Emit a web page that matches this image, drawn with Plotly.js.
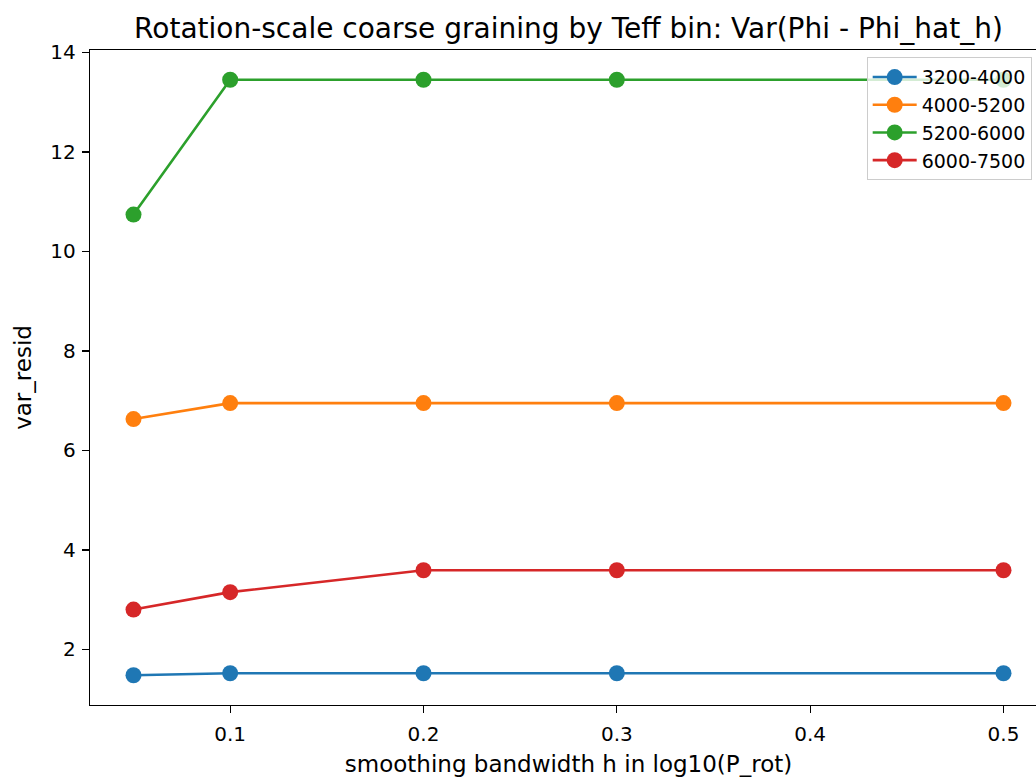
<!DOCTYPE html>
<html><head><meta charset="utf-8">
<script src="https://cdn.plot.ly/plotly-3.0.1.min.js"></script>
<style>html,body{margin:0;padding:0;overflow:hidden;background:#fff}</style>
</head><body><div id="chart"></div>
<script>
const bandwidths = [0.05, 0.1, 0.2, 0.3, 0.5];
const seriesNames = ["3200-4000", "4000-5200", "5200-6000", "6000-7500"];
const var3200_4000 = [1.48, 1.52, 1.52, 1.52, 1.52];
const var4000_5200 = [6.63, 6.95, 6.95, 6.95, 6.95];
const var5200_6000 = [10.74, 13.45, 13.45, 13.45, 13.45];
const var6000_7500 = [2.80, 3.15, 3.59, 3.59, 3.59];
const xTicks = [0.1, 0.2, 0.3, 0.4, 0.5];
const yTicks = [2, 4, 6, 8, 10, 12, 14];

const colors = ["#1f77b4", "#ff7f0e", "#2ca02c", "#d62728"];
const allY = [var3200_4000, var4000_5200, var5200_6000, var6000_7500];
const traces = allY.map((ys, i) => ({
  x: bandwidths, y: ys, name: seriesNames[i], type: "scatter", mode: "lines+markers",
  line: {color: colors[i], width: 2.6},
  marker: {color: colors[i], size: 16}
}));

const flat = allY.flat();
const ymin = Math.min(...flat), ymax = Math.max(...flat);
const ypad = (ymax - ymin) * 0.05;
const xmin = Math.min(...bandwidths), xmax = Math.max(...bandwidths);
const xpad = (xmax - xmin) * 0.05;

const font = {family: "DejaVu Sans, sans-serif", color: "#000"};
const layout = {
  width: 1047, height: 784,
  margin: {l: 90, r: 0, t: 50, b: 79},
  paper_bgcolor: "#fff", plot_bgcolor: "#fff",
  font: Object.assign({size: 20}, font),
  title: {text: "Rotation-scale coarse graining by Teff bin: Var(Phi - Phi_hat_h)",
          font: Object.assign({size: 28}, font), x: 0.5, xref: "paper", y: 1 - 28 / 784, yref: "container", yanchor: "middle"},
  xaxis: {range: [xmin - xpad, xmax + xpad], tickvals: xTicks, ticktext: xTicks.map(v => v.toFixed(1)),
          showgrid: false, zeroline: false, showline: true, linecolor: "#000", linewidth: 1.3, mirror: true,
          ticks: "outside", ticklen: 7, tickwidth: 1.3, tickcolor: "#000", ticklabelstandoff: 4,
          tickfont: Object.assign({size: 20}, font),
          title: {text: "smoothing bandwidth h in log10(P_rot)", font: Object.assign({size: 23}, font), standoff: 10}},
  yaxis: {range: [ymin - ypad, ymax + ypad], tickvals: yTicks,
          showgrid: false, zeroline: false, showline: true, linecolor: "#000", linewidth: 1.3, mirror: true,
          ticks: "outside", ticklen: 7, tickwidth: 1.3, tickcolor: "#000", ticklabelstandoff: 2,
          tickfont: Object.assign({size: 20}, font),
          title: {text: "var_resid", font: Object.assign({size: 23}, font), standoff: 12}},
  legend: {x: 0.984, xanchor: "right", y: 0.989, yanchor: "top",
           bgcolor: "rgba(255,255,255,0.8)", bordercolor: "#ccc", borderwidth: 1,
           font: Object.assign({size: 19}, font), tracegroupgap: 0, itemwidth: 44},
  showlegend: true
};
Plotly.newPlot("chart", traces, layout, {displayModeBar: false, staticPlot: true});
</script></body></html>
